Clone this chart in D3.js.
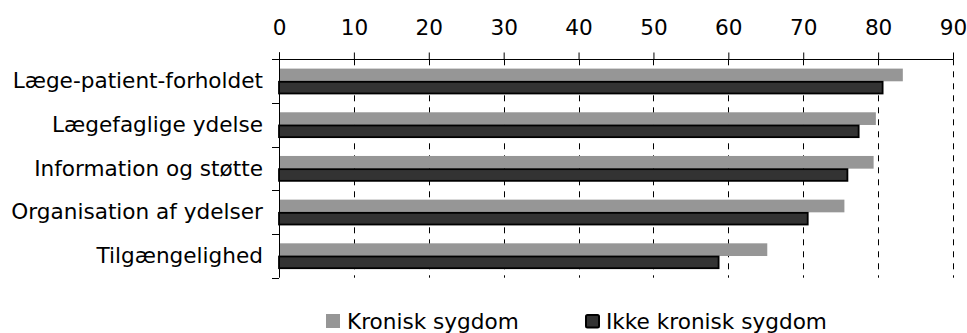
<!DOCTYPE html>
<html>
<head>
<meta charset="utf-8">
<script src="https://cdn.jsdelivr.net/npm/d3@7/dist/d3.min.js"></script>
<style>
  html, body { margin: 0; padding: 0; background: #fff; }
  svg { display: block; }
  text { font-family: "DejaVu Sans", Verdana, sans-serif; fill: #000; }
</style>
</head>
<body>
<svg id="chart" width="967" height="333"></svg>
<script>
const categories = ["Læge-patient-forholdet", "Lægefaglige ydelse", "Information og støtte", "Organisation af ydelser", "Tilgængelighed"];
const seriesNames = ["Kronisk sygdom", "Ikke kronisk sygdom"];
const kronisk = [83.3, 79.7, 79.4, 75.5, 65.2];
const ikkeKronisk = [80.6, 77.4, 75.9, 70.6, 58.7];
const tickValues = [0, 10, 20, 30, 40, 50, 60, 70, 80, 90];

const svg = d3.select("#chart");
const fontSize = 21.6;
const x = d3.scaleLinear().domain([0, 90]).range([279, 953]);
const y = d3.scaleBand().domain(categories).range([59.3, 277.7]).padding(0);
const inner = d3.scaleBand().domain(seriesNames).range([9.3, y.bandwidth() - 9]).padding(0);
const colors = { "Kronisk sygdom": "#969696", "Ikke kronisk sygdom": "#333333" };

// gridlines
svg.append("g").selectAll("line")
  .data(tickValues.slice(1))
  .join("line")
  .attr("x1", d => Math.round(x(d)) + 0.5).attr("x2", d => Math.round(x(d)) + 0.5)
  .attr("y1", y.range()[0]).attr("y2", y.range()[1])
  .attr("stroke", "#000").attr("stroke-width", 1)
  .attr("stroke-dasharray", "6,6");

// bars
const data = categories.map((c, i) => ({ c, vals: [
  { s: seriesNames[0], v: kronisk[i] },
  { s: seriesNames[1], v: ikkeKronisk[i] }
]}));

const groups = svg.append("g").selectAll("g")
  .data(data).join("g")
  .attr("transform", d => `translate(0,${y(d.c)})`);

groups.selectAll("rect")
  .data(d => d.vals).join("rect")
  .attr("x", x(0))
  .attr("y", d => inner(d.s) + (d.s === seriesNames[1] ? 0.5 : 0))
  .attr("width", d => x(d.v) - x(0))
  .attr("height", d => inner.bandwidth() - (d.s === seriesNames[1] ? 1 : 0))
  .attr("fill", d => colors[d.s])
  .attr("stroke", d => d.s === seriesNames[1] ? "#000" : "none")
  .attr("stroke-width", 1.8);

// top axis
const xAxis = d3.axisTop(x).tickValues(tickValues).tickSize(7).tickPadding(18).tickFormat(d3.format("d"));
const gx = svg.append("g").attr("transform", `translate(0,${Math.round(y.range()[0]) + 0.5})`).call(xAxis);
gx.select(".domain").attr("d", `M${x(0) - 7},0H${x(90)}`).attr("stroke", "#000");
gx.selectAll(".tick line").attr("stroke", "#000");
gx.selectAll(".tick text").attr("font-size", fontSize).attr("font-family", "DejaVu Sans");

// left axis
const boundaries = categories.map(c => y(c)).concat([y.range()[1]]);
const gy = svg.append("g");
gy.append("line")
  .attr("x1", x(0) + 0.5).attr("x2", x(0) + 0.5)
  .attr("y1", y.range()[0] - 7).attr("y2", y.range()[1])
  .attr("stroke", "#000");
gy.selectAll("line.tk").data(boundaries).join("line").attr("class", "tk")
  .attr("x1", x(0) - 7).attr("x2", x(0))
  .attr("y1", d => Math.round(d) + 0.5).attr("y2", d => Math.round(d) + 0.5)
  .attr("stroke", "#000");
gy.selectAll("text").data(categories).join("text")
  .attr("x", 263)
  .attr("y", d => y(d) + y.bandwidth() / 2)
  .attr("dy", "0.33em")
  .attr("text-anchor", "end")
  .attr("font-size", fontSize)
  .text(d => d);

// legend
const legendItems = [
  { s: seriesNames[0], x: 326 },
  { s: seriesNames[1], x: 585 }
];
const lg = svg.append("g").selectAll("g").data(legendItems).join("g")
  .attr("transform", d => `translate(${d.x},314)`);
lg.append("rect")
  .attr("x", d => d.s === seriesNames[1] ? 1 : 0)
  .attr("y", d => d.s === seriesNames[1] ? 1 : 0)
  .attr("width", d => d.s === seriesNames[1] ? 13 : 14)
  .attr("height", d => d.s === seriesNames[1] ? 12.5 : 14)
  .attr("rx", d => d.s === seriesNames[1] ? 1.5 : 0)
  .attr("fill", d => colors[d.s])
  .attr("stroke", d => d.s === seriesNames[1] ? "#000" : "none")
  .attr("stroke-width", 2);
lg.append("text")
  .attr("x", 21)
  .attr("y", 14.5)
  .attr("font-size", fontSize)
  .text(d => d.s);
</script>
</body>
</html>
